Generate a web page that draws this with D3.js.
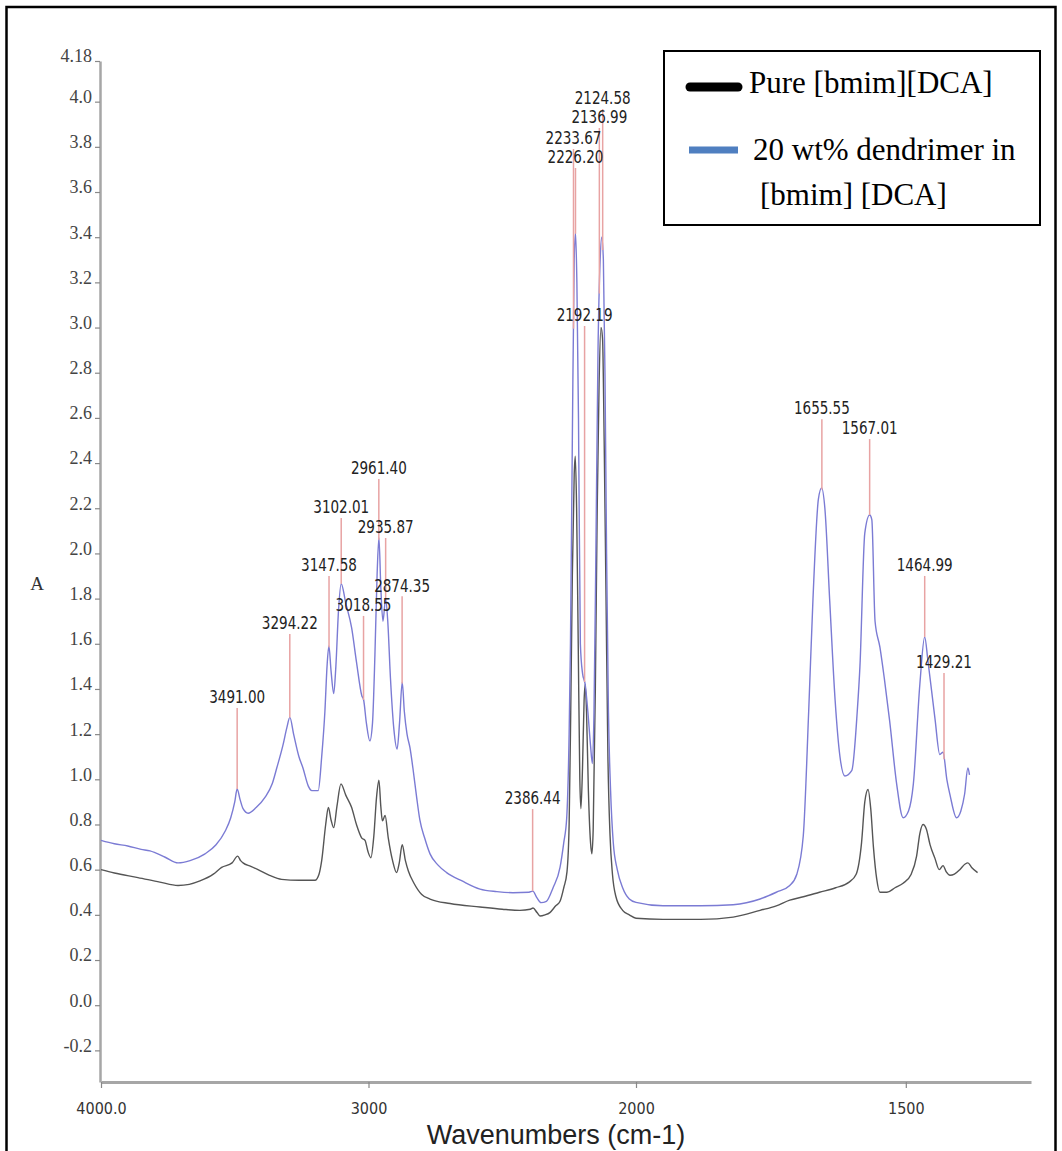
<!DOCTYPE html>
<html>
<head>
<meta charset="utf-8">
<script src="https://cdn.jsdelivr.net/npm/d3@7"></script>
<style>
  body { margin: 0; background: #fff; }
</style>
</head>
<body>
<svg id="chart" width="1062" height="1151"></svg>
<script>
// FTIR spectra, [wavenumber cm-1, absorbance]
const pureSpectrum = [
  [4000,0.60],[3950,0.585],[3862,0.565],[3780,0.545],[3712,0.53],[3670,0.535],[3630,0.55],[3580,0.58],
  [3549,0.61],[3510,0.63],[3489,0.66],[3478,0.64],[3469,0.63],[3440,0.615],[3413,0.60],[3370,0.575],
  [3325,0.557],[3260,0.553],[3200,0.553],[3185,0.58],[3175,0.64],[3160,0.8],[3150,0.875],[3140,0.82],
  [3130,0.786],[3118,0.88],[3103,0.98],[3085,0.93],[3063,0.875],[3045,0.8],[3025,0.74],[3013,0.73],
  [3002,0.68],[2991,0.653],[2980,0.75],[2970,0.92],[2961,0.996],[2954,0.88],[2948,0.816],[2938,0.84],
  [2926,0.74],[2910,0.64],[2895,0.587],[2885,0.63],[2874,0.71],[2862,0.64],[2851,0.594],[2830,0.54],
  [2801,0.49],[2770,0.47],[2695,0.45],[2583,0.435],[2500,0.425],[2434,0.42],[2395,0.425],[2385,0.43],
  [2370,0.41],[2359,0.395],[2340,0.4],[2322,0.41],[2300,0.44],[2284,0.46],[2270,0.52],[2258,0.59],
  [2250,0.8],[2244,1.3],[2238,1.9],[2231,2.35],[2227,2.43],[2222,2.2],[2216,1.6],[2210,1.0],[2206,0.87],
  [2200,1.05],[2194,1.35],[2190,1.42],[2185,1.3],[2178,0.95],[2170,0.72],[2165,0.67],[2160,0.78],
  [2152,1.4],[2145,2.2],[2138,2.75],[2131,3.0],[2125,2.95],[2119,2.5],[2112,1.8],[2105,1.1],[2097,0.75],
  [2088,0.58],[2075,0.48],[2050,0.42],[2025,0.40],[2000,0.385],[1950,0.38],[1880,0.38],[1820,0.39],
  [1770,0.42],[1740,0.44],[1715,0.465],[1690,0.48],[1660,0.5],[1630,0.52],[1605,0.545],[1592,0.58],
  [1582,0.72],[1576,0.9],[1570,0.955],[1565,0.87],[1560,0.7],[1554,0.56],[1548,0.5],[1535,0.5],
  [1520,0.52],[1505,0.54],[1490,0.58],[1480,0.66],[1474,0.76],[1468,0.80],[1462,0.78],[1455,0.71],
  [1446,0.65],[1438,0.6],[1431,0.618],[1425,0.59],[1418,0.575],[1410,0.58],[1400,0.6],[1390,0.625],
  [1385,0.63],[1378,0.61],[1367,0.587]
];

const dendrimerSpectrum = [
  [4000,0.73],[3950,0.715],[3900,0.705],[3850,0.69],[3817,0.683],[3760,0.655],[3712,0.63],[3667,0.64],
  [3611,0.67],[3570,0.71],[3536,0.77],[3515,0.83],[3500,0.9],[3491,0.957],[3480,0.91],[3469,0.87],
  [3450,0.85],[3420,0.875],[3387,0.92],[3360,0.98],[3343,1.05],[3320,1.15],[3305,1.23],[3294,1.274],
  [3280,1.2],[3260,1.1],[3245,1.05],[3225,0.97],[3212,0.95],[3188,0.95],[3175,1.1],[3163,1.30],
  [3155,1.5],[3148,1.59],[3140,1.48],[3130,1.38],[3122,1.5],[3112,1.75],[3102,1.866],[3085,1.78],
  [3063,1.67],[3045,1.52],[3025,1.37],[3018,1.35],[3008,1.25],[2995,1.17],[2985,1.25],[2976,1.55],
  [2968,1.9],[2961,2.07],[2954,1.85],[2946,1.70],[2936,1.80],[2928,1.7],[2918,1.45],[2905,1.22],
  [2893,1.134],[2884,1.25],[2874,1.43],[2866,1.3],[2856,1.2],[2845,1.14],[2834,1.05],[2820,0.92],
  [2808,0.82],[2790,0.74],[2770,0.67],[2740,0.62],[2708,0.587],[2650,0.55],[2583,0.514],[2520,0.503],
  [2460,0.498],[2400,0.5],[2386,0.505],[2370,0.475],[2355,0.454],[2335,0.46],[2310,0.52],[2284,0.61],
  [2270,0.72],[2259,0.83],[2250,1.2],[2245,1.6],[2238,2.5],[2231,3.3],[2226,3.42],[2221,3.2],
  [2215,2.6],[2208,1.6],[2200,1.47],[2190,1.42],[2180,1.3],[2170,1.15],[2163,1.07],[2157,1.3],
  [2150,2.0],[2142,2.9],[2134,3.3],[2128,3.40],[2122,3.3],[2116,2.8],[2110,2.0],[2103,1.3],[2095,0.95],
  [2085,0.72],[2070,0.6],[2050,0.52],[2025,0.47],[2000,0.455],[1950,0.44],[1880,0.44],[1820,0.445],
  [1770,0.47],[1740,0.5],[1715,0.53],[1702,0.58],[1690,0.75],[1680,1.3],[1672,1.8],[1662,2.24],
  [1656,2.29],[1650,2.2],[1641,1.79],[1631,1.35],[1622,1.1],[1613,1.015],[1600,1.04],[1590,1.3],
  [1585,1.5],[1576,2.09],[1567,2.17],[1563,2.15],[1557,1.7],[1548,1.585],[1540,1.45],[1530,1.26],
  [1517,0.98],[1505,0.83],[1495,0.86],[1486,0.98],[1474,1.42],[1465,1.63],[1459,1.525],[1446,1.27],
  [1437,1.11],[1431,1.12],[1424,1.0],[1418,0.93],[1406,0.83],[1398,0.86],[1391,0.935],[1385,1.05],
  [1382,1.02]
];

// peak picks: wavenumber and the absorbance level where its label sits
const peakWn = [3491.00, 3294.22, 3147.58, 3102.01, 3018.55, 2961.40, 2935.87, 2874.35, 2386.44,
  2233.67, 2226.20, 2192.19, 2136.99, 2124.58, 1655.55, 1567.01, 1464.99, 1429.21];
const peakLabelAbs = [1.364, 1.692, 1.949, 2.206, 1.772, 2.378, 2.117, 1.859, 0.917,
  3.839, 3.755, 3.056, 3.932, 4.016, 2.643, 2.555, 1.949, 1.519];

const yTickValues = [4.18, 4.0, 3.8, 3.6, 3.4, 3.2, 3.0, 2.8, 2.6, 2.4, 2.2, 2.0, 1.8, 1.6,
  1.4, 1.2, 1.0, 0.8, 0.6, 0.4, 0.2, 0.0, -0.2];
const xTickValues = [4000, 3000, 2000, 1500];
const seriesNames = ["Pure [bmim][DCA]", "20 wt% dendrimer in", "[bmim] [DCA]"];

const svg = d3.select("#chart");

// x axis is expanded 2x below 2000 cm-1, as on the instrument printout
const x = d3.scaleLinear().domain([4000, 2000, 1268]).range([101, 636, 1031]);
const y = d3.scaleLinear().domain([-0.34, 4.18]).range([1082, 61]);

// outer frame
svg.append("rect")
  .attr("x", 6.5).attr("y", 7).attr("width", 1049).attr("height", 1152)
  .attr("fill", "none").attr("stroke", "#000").attr("stroke-width", 2.5);

// y axis
const yAxis = svg.append("g")
  .attr("transform", "translate(100,0)")
  .call(d3.axisLeft(y).tickValues(yTickValues).tickSize(5).tickSizeOuter(0)
    .tickFormat(d => d === 4.18 ? "4.18" : d.toFixed(1)));
yAxis.select(".domain").attr("stroke", "#a6a6a6").attr("stroke-width", 2.5);
yAxis.selectAll(".tick line").attr("stroke", "#888").attr("stroke-width", 1.2);
yAxis.selectAll(".tick text")
  .attr("x", -8).attr("dy", "0.05em")
  .attr("font-family", "Liberation Serif, serif").attr("font-size", 18).attr("fill", "#444");

// x axis
const xAxis = svg.append("g")
  .attr("transform", "translate(0,1082)")
  .call(d3.axisBottom(x).tickValues(xTickValues).tickSize(6).tickSizeOuter(0)
    .tickFormat(d => d === 4000 ? "4000.0" : d));
xAxis.select(".domain").attr("stroke", "#a6a6a6").attr("stroke-width", 3);
xAxis.selectAll(".tick line").attr("stroke", "#888").attr("stroke-width", 1.2);
xAxis.selectAll(".tick text")
  .attr("y", 21)
  .attr("font-family", "DejaVu Sans Condensed, DejaVu Sans, sans-serif").attr("font-size", 16).attr("fill", "#333");

svg.append("text")
  .attr("x", 37).attr("y", 590).attr("text-anchor", "middle")
  .attr("font-family", "Liberation Serif, serif").attr("font-size", 19).attr("fill", "#333")
  .text("A");

svg.append("text")
  .attr("x", 556).attr("y", 1144).attr("text-anchor", "middle")
  .attr("font-family", "Liberation Sans, Arial, sans-serif").attr("font-size", 27).attr("fill", "#222")
  .text("Wavenumbers (cm-1)");

// spectra
const line = d3.line().x(d => x(d[0])).y(d => y(d[1])).curve(d3.curveMonotoneX);

svg.append("path").datum(pureSpectrum)
  .attr("d", line).attr("fill", "none").attr("stroke", "#555").attr("stroke-width", 1.4);
svg.append("path").datum(dendrimerSpectrum)
  .attr("d", line).attr("fill", "none").attr("stroke", "#7b7bd4").attr("stroke-width", 1.4);

// absorbance of a spectrum at a given wavenumber (linear between points)
function absAt(spec, wn) {
  for (let i = 0; i < spec.length - 1; i++) {
    const a = spec[i], b = spec[i + 1];
    if (wn <= a[0] && wn >= b[0]) return a[1] + (b[1] - a[1]) * (a[0] - wn) / (a[0] - b[0]);
  }
  return spec[spec.length - 1][1];
}

const peaks = peakWn.map((wn, i) => ({ wn, labelAbs: peakLabelAbs[i] }));

svg.append("g").selectAll("line")
  .data(peaks)
  .join("line")
  .attr("x1", d => x(d.wn)).attr("x2", d => x(d.wn))
  .attr("y1", d => y(d.labelAbs) + 11)
  .attr("y2", d => y(absAt(dendrimerSpectrum, d.wn)))
  .attr("stroke", "#e8a3a3").attr("stroke-width", 1.5);

// tall, narrow labels as on the printout
svg.append("g").selectAll("text")
  .data(peaks)
  .join("text")
  .attr("transform", d => `translate(${x(d.wn)},${y(d.labelAbs)}) scale(0.97,1.15)`)
  .attr("dy", "0.35em").attr("text-anchor", "middle")
  .attr("font-family", "DejaVu Sans Condensed, DejaVu Sans, sans-serif")
  .attr("font-size", 15.5).attr("fill", "#222")
  .text(d => d.wn.toFixed(2));

// legend
const legend = svg.append("g");
legend.append("rect")
  .attr("x", 664).attr("y", 51).attr("width", 376).attr("height", 174)
  .attr("fill", "#fff").attr("stroke", "#000").attr("stroke-width", 2);
legend.append("line")
  .attr("x1", 690).attr("x2", 738).attr("y1", 87).attr("y2", 87)
  .attr("stroke", "#000").attr("stroke-width", 9).attr("stroke-linecap", "round");
legend.append("line")
  .attr("x1", 689).attr("x2", 738).attr("y1", 150).attr("y2", 150)
  .attr("stroke", "#4f7fc0").attr("stroke-width", 7);
legend.selectAll("text")
  .data(seriesNames)
  .join("text")
  .attr("x", (d, i) => [749, 753, 760][i])
  .attr("y", (d, i) => [93, 160, 205][i])
  .attr("font-family", "Liberation Serif, Times New Roman, serif")
  .attr("font-size", 31).attr("fill", "#000")
  .text(d => d);
</script>
</body>
</html>
